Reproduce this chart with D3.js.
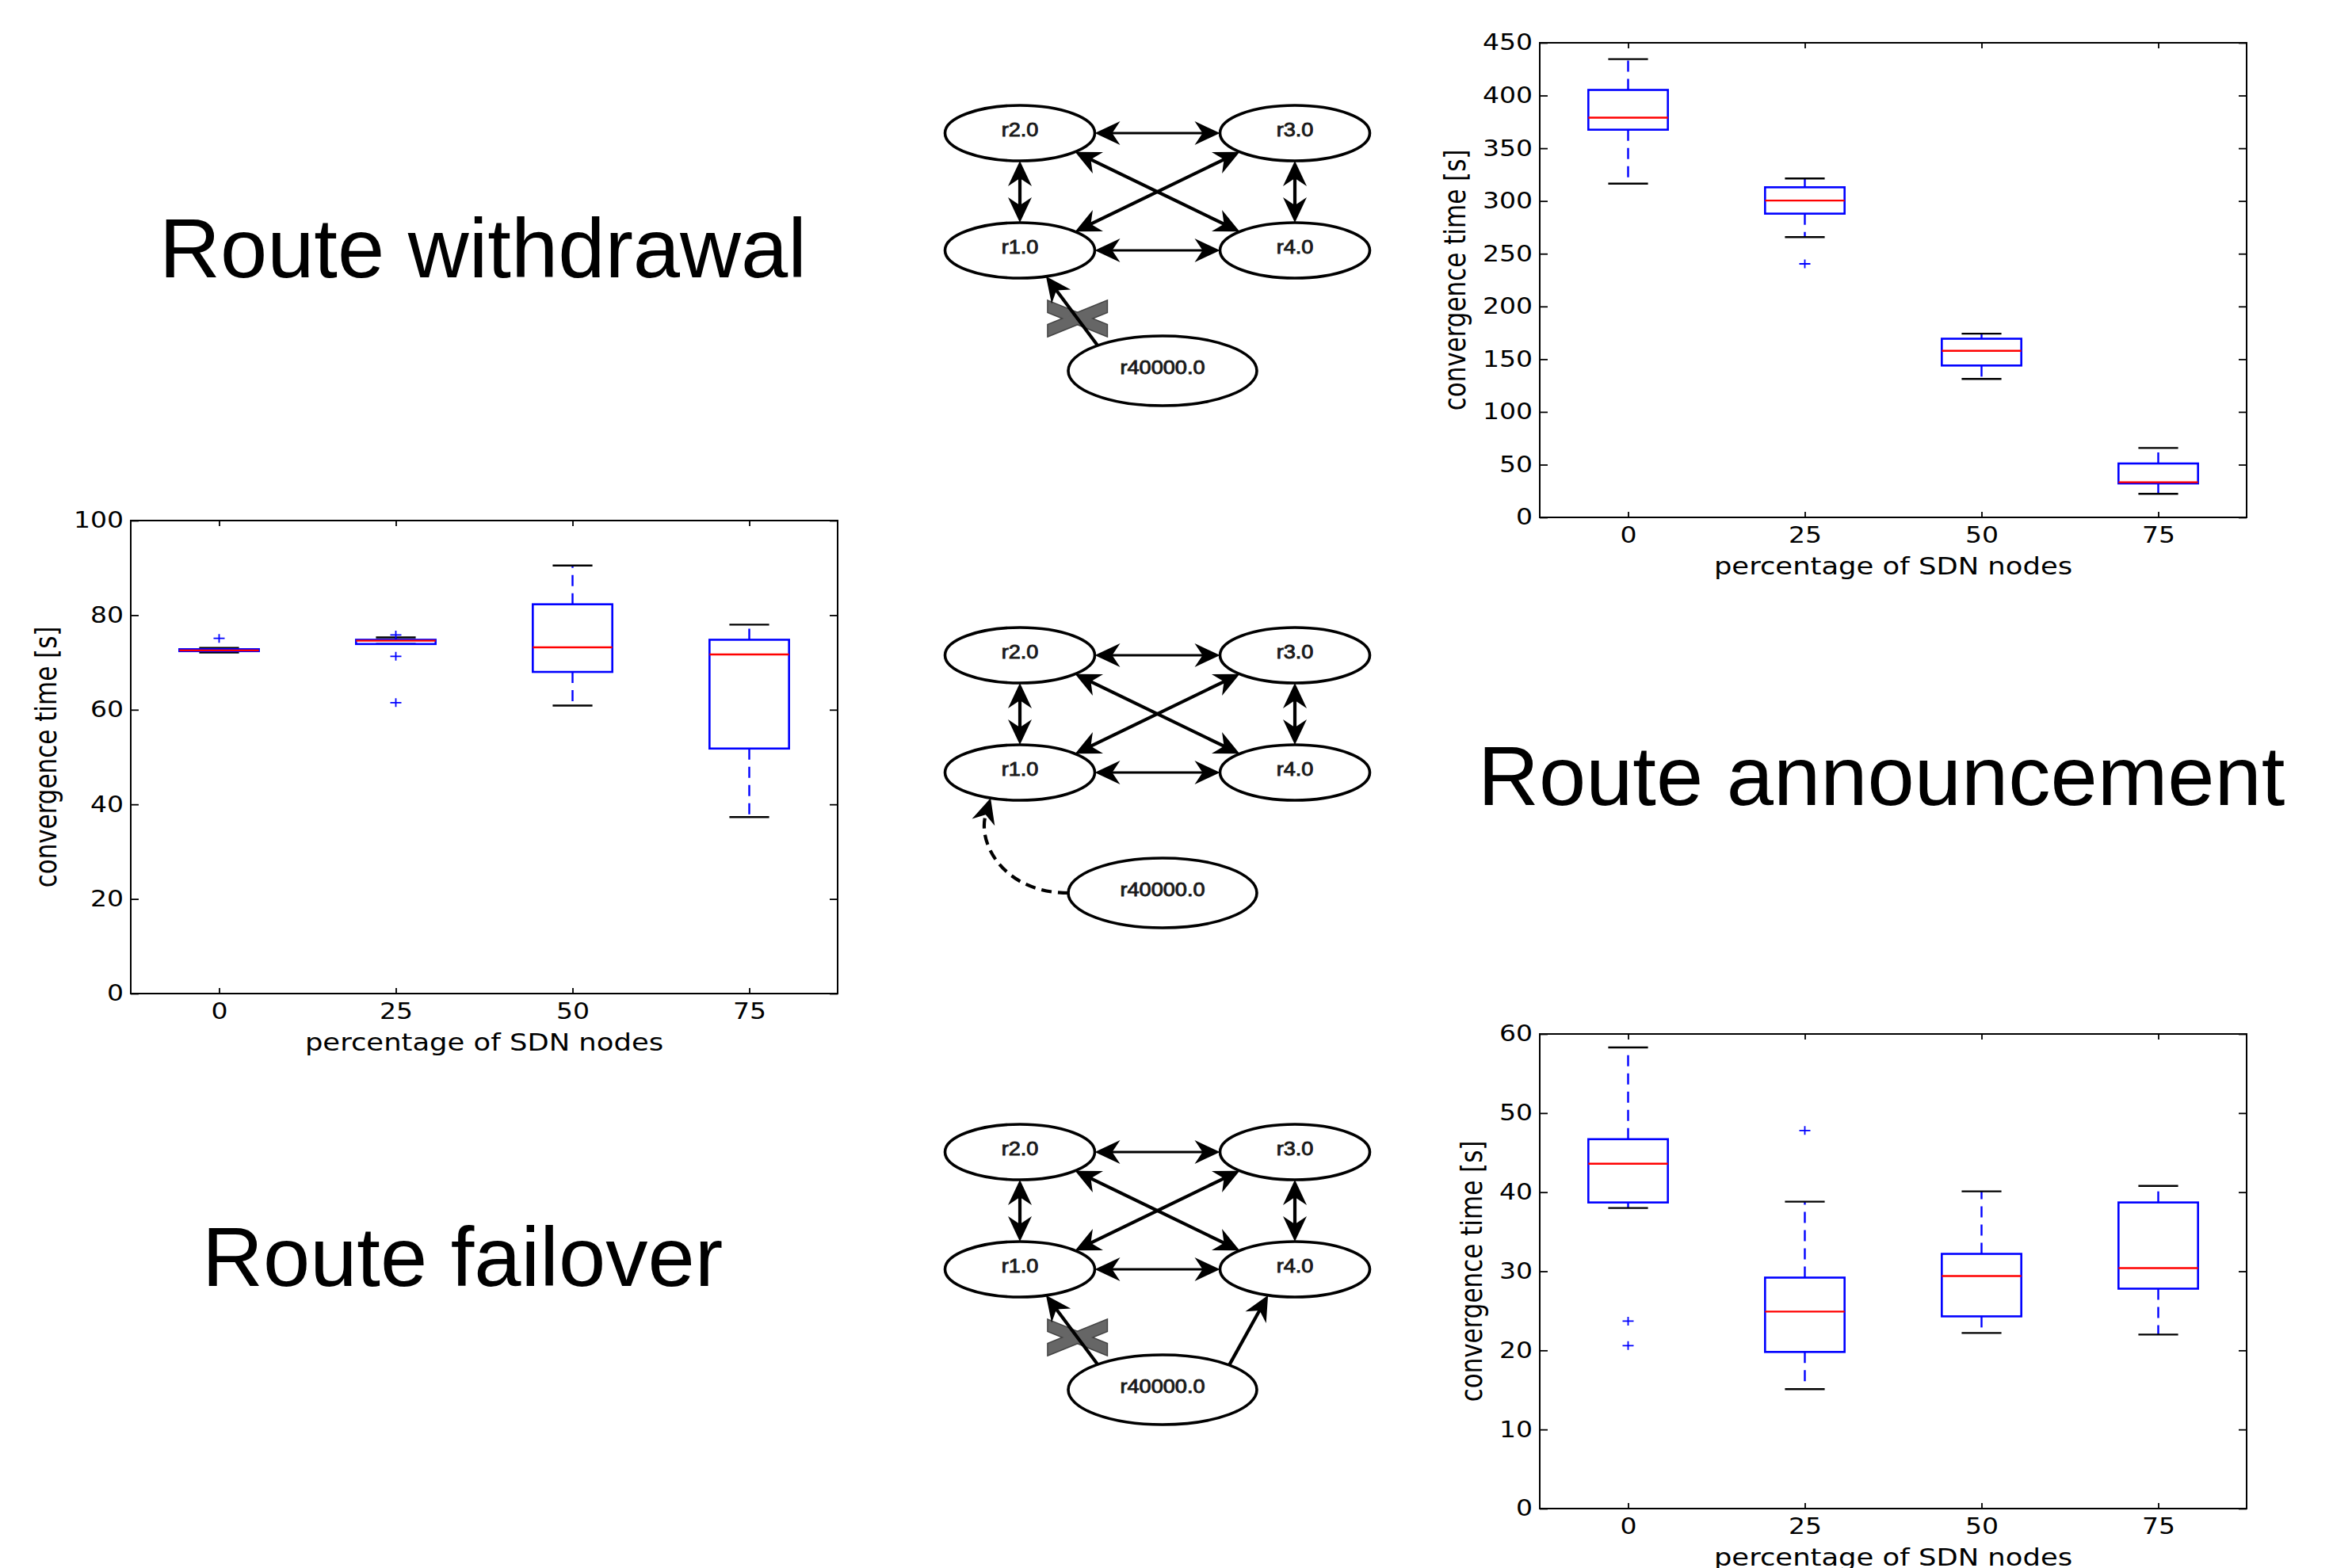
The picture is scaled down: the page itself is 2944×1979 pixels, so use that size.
<!DOCTYPE html>
<html>
<head>
<meta charset="utf-8">
<script src="https://cdn.jsdelivr.net/npm/d3@7"></script>
<style>body{margin:0;background:#fff}</style>
</head>
<body>
<svg id="fig" width="2944" height="1979"></svg>
<script>
// ---- data ----
var sdnPct = [0, 25, 50, 75];

// route withdrawal (top right)
var wdTicks = [0, 50, 100, 150, 200, 250, 300, 350, 400, 450];
var wdLow  = [316.5, 265.8, 131.3, 22.3];
var wdQ1   = [367.6, 288.0, 144.0, 32.2];
var wdMed  = [379.0, 300.4, 158.0, 33.3];
var wdQ3   = [405.3, 313.0, 169.4, 51.1];
var wdHigh = [434.5, 321.3, 174.2, 65.8];
var wdOut  = [[], [240.4], [], []];

// route announcement (middle left)
var anTicks = [0, 20, 40, 60, 80, 100];
var anLow  = [72.1, 73.9, 60.9, 37.3];
var anQ1   = [72.4, 73.9, 68.0, 51.8];
var anMed  = [72.55, 74.6, 73.2, 71.7];
var anQ3   = [72.8, 74.8, 82.3, 74.8];
var anHigh = [73.1, 75.3, 90.5, 78.0];
var anOut  = [[75.1], [75.8, 71.3, 61.5], [], []];

// route failover (bottom right)
var foTicks = [0, 10, 20, 30, 40, 50, 60];
var foLow  = [38.0, 15.1, 22.2, 22.0];
var foQ1   = [38.7, 19.8, 24.3, 27.8];
var foMed  = [43.6, 24.9, 29.4, 30.4];
var foQ3   = [46.7, 29.2, 32.2, 38.7];
var foHigh = [58.3, 38.8, 40.1, 40.8];
var foOut  = [[23.7, 20.6], [47.8], [], []];

var titles = ["Route withdrawal", "Route announcement", "Route failover"];
var nodeNames = ["r2.0", "r3.0", "r1.0", "r4.0", "r40000.0"];
var meshLinks = [["r2.0","r3.0"], ["r1.0","r4.0"], ["r2.0","r1.0"], ["r3.0","r4.0"], ["r2.0","r4.0"], ["r3.0","r1.0"]];

// ---- drawing ----
var svg = d3.select("#fig");
var SX = 1.18;               // the plots in the figure are stretched horizontally
var BLUE = "#0000ff", RED = "#ff0000";

function boxPlot(f, yMax, yTicks, low, q1, med, q3, high, out) {
  var x = d3.scaleLinear().domain([-12.5, 87.5]).range([f.left, f.right]);
  var y = d3.scaleLinear().domain([0, yMax]).range([f.bottom, f.top]);
  var g = svg.append("g");
  var bw = 5.625, cw = 2.8125;   // half box width, half cap width (in % units)

  var axL = g.append("g").attr("transform", "translate(" + f.left + ",0)")
    .call(d3.axisLeft(y).tickValues(yTicks).tickSizeInner(-10).tickSizeOuter(0).tickPadding(9));
  g.append("g").attr("transform", "translate(" + f.right + ",0)")
    .call(d3.axisRight(y).tickValues(yTicks).tickSizeInner(-10).tickSizeOuter(0).tickFormat(""));
  var axB = g.append("g").attr("transform", "translate(0," + f.bottom + ")")
    .call(d3.axisBottom(x).tickValues(sdnPct).tickSizeInner(-7).tickSizeOuter(0).tickPadding(12));
  g.append("g").attr("transform", "translate(0," + f.top + ")")
    .call(d3.axisTop(x).tickValues(sdnPct).tickSizeInner(-7).tickSizeOuter(0).tickFormat(""));
  g.selectAll(".domain").remove();
  g.selectAll(".tick line").attr("stroke-width", 1.8);
  [axL, axB].forEach(function(a) { a.attr("font-family", "DejaVu Sans").attr("font-size", 28); });
  axL.selectAll("text").attr("x", -9 / SX).attr("transform", "scale(" + SX + ",1)").attr("fill", "#000");
  axB.selectAll("text").attr("transform", "scale(" + SX + ",1)").attr("fill", "#000");

  g.append("rect").attr("x", f.left).attr("y", f.top)
    .attr("width", f.right - f.left).attr("height", f.bottom - f.top)
    .attr("fill", "none").attr("stroke", "#000").attr("stroke-width", 2);

  sdnPct.forEach(function(p, i) {
    var cx = x(p);
    // whiskers
    [[q3[i], high[i]], [q1[i], low[i]]].forEach(function(w) {
      g.append("line").attr("x1", cx).attr("x2", cx).attr("y1", y(w[0])).attr("y2", y(w[1]))
        .attr("stroke", BLUE).attr("stroke-width", 2.4).attr("stroke-dasharray", "14,9");
    });
    // caps
    [low[i], high[i]].forEach(function(v) {
      g.append("line").attr("x1", x(p - cw)).attr("x2", x(p + cw)).attr("y1", y(v)).attr("y2", y(v))
        .attr("stroke", "#000").attr("stroke-width", 2.4);
    });
    // box
    g.append("rect").attr("x", x(p - bw)).attr("y", y(q3[i]))
      .attr("width", x(p + bw) - x(p - bw)).attr("height", Math.max(y(q1[i]) - y(q3[i]), 0.5))
      .attr("fill", "none").attr("stroke", BLUE).attr("stroke-width", 2.6);
    // median
    g.append("line").attr("x1", x(p - bw)).attr("x2", x(p + bw)).attr("y1", y(med[i])).attr("y2", y(med[i]))
      .attr("stroke", RED).attr("stroke-width", 2.4);
    // fliers
    out[i].forEach(function(v) {
      g.append("path").attr("transform", "translate(" + cx + "," + y(v) + ")")
        .attr("d", "M-7,0H7M0,-5.5V5.5").attr("stroke", BLUE).attr("stroke-width", 1.8).attr("fill", "none");
    });
  });

  var bb = axL.node().getBBox();
  var lx = f.left + bb.x - 31;
  g.append("text").attr("transform", "translate(" + lx + "," + (f.top + f.bottom) / 2 + ") rotate(-90) scale(1," + SX + ")")
    .attr("text-anchor", "middle").attr("dy", "0.26em")
    .attr("font-family", "DejaVu Sans").attr("font-size", 31).text("convergence time [s]");
  g.append("text").attr("transform", "translate(" + (f.left + f.right) / 2 + "," + (f.bottom + 72) + ") scale(" + SX + ",1)")
    .attr("text-anchor", "middle")
    .attr("font-family", "DejaVu Sans").attr("font-size", 30).text("percentage of SDN nodes");
}

boxPlot({left: 1943, right: 2835, top: 54, bottom: 653}, 450, wdTicks, wdLow, wdQ1, wdMed, wdQ3, wdHigh, wdOut);
boxPlot({left: 165, right: 1057, top: 657, bottom: 1254}, 100, anTicks, anLow, anQ1, anMed, anQ3, anHigh, anOut);
boxPlot({left: 1943, right: 2835, top: 1305, bottom: 1904}, 60, foTicks, foLow, foQ1, foMed, foQ3, foHigh, foOut);

// ---- titles ----
var titlePos = [[201, 350], [1865, 1016], [255, 1623]];
titles.forEach(function(t, i) {
  svg.append("text").attr("x", titlePos[i][0]).attr("y", titlePos[i][1])
    .attr("font-family", "Liberation Sans").attr("font-size", 106.5).attr("fill", "#000").text(t);
});

// ---- network diagrams ----
var nodeGeom = {"r2.0": [1287, 168, 94.5, 35], "r3.0": [1634, 168, 94.5, 35],
  "r1.0": [1287, 316, 94.5, 35], "r4.0": [1634, 316, 94.5, 35], "r40000.0": [1467, 468, 119, 44]};
var linkAngles = {"r2.0-r3.0": [0, 180], "r1.0-r4.0": [0, 180], "r2.0-r1.0": [90, 270],
  "r3.0-r4.0": [90, 270], "r2.0-r4.0": [42.5, 222.5], "r3.0-r1.0": [137.5, 317.5]};
var netOffsets = [0, 659, 1286];
var AL = 32, AW = 15, AN = 10;

function onEllipse(name, deg, oy) {
  var n = nodeGeom[name], t = deg * Math.PI / 180;
  return [n[0] + n[2] * Math.cos(t), n[1] + oy + n[3] * Math.sin(t)];
}
function arrowHead(g, tip, d) {
  var nx = -d[1], ny = d[0];
  var bx = tip[0] - AL * d[0], by = tip[1] - AL * d[1];
  var pts = [tip, [bx + AW * nx, by + AW * ny], [tip[0] - (AL - AN) * d[0], tip[1] - (AL - AN) * d[1]], [bx - AW * nx, by - AW * ny]];
  g.append("path").attr("d", "M" + pts.join("L") + "Z").attr("fill", "#000");
}
function edge(g, a, b, both) {
  var dx = b[0] - a[0], dy = b[1] - a[1], len = Math.hypot(dx, dy), d = [dx / len, dy / len];
  var k = AL - AN - 1;
  var s = both ? [a[0] + k * d[0], a[1] + k * d[1]] : a;
  var e = [b[0] - k * d[0], b[1] - k * d[1]];
  g.append("line").attr("x1", s[0]).attr("y1", s[1]).attr("x2", e[0]).attr("y2", e[1])
    .attr("stroke", "#000").attr("stroke-width", Math.abs(d[1]) > 0.3 ? 4.2 : 2.8);
  arrowHead(g, b, d);
  if (both) arrowHead(g, a, [-d[0], -d[1]]);
}
function brokenMark(g, cx, cy) {
  var w = 37, h = 22, t = 14;
  var bars = [[[cx - w, cy - h], [cx + w, cy + h - t], [cx + w, cy + h], [cx - w, cy - h + t]],
              [[cx - w, cy + h], [cx + w, cy - h + t], [cx + w, cy - h], [cx - w, cy + h - t]]];
  bars.forEach(function(p) {
    g.append("path").attr("d", "M" + p.join("L") + "Z").attr("fill", "#666").attr("stroke", "#444").attr("stroke-width", 3);
  });
  bars.forEach(function(p) {
    g.append("path").attr("d", "M" + p.join("L") + "Z").attr("fill", "#666");
  });
}

netOffsets.forEach(function(oy, k) {
  var g = svg.append("g");
  meshLinks.forEach(function(l) {
    var ang = linkAngles[l[0] + "-" + l[1]];
    edge(g, onEllipse(l[0], ang[0], oy), onEllipse(l[1], ang[1], oy), true);
  });
  if (k === 1) {
    // new route announced: dashed curve into r1.0
    var tip = onEllipse("r1.0", 113, oy), st = onEllipse("r40000.0", 180, oy);
    var d = [0.287, -0.958], m = AL - AN - 1;
    var nt = [tip[0] - m * d[0], tip[1] - m * d[1]];
    var c2 = [nt[0] - 40 * d[0], nt[1] - 40 * d[1]];
    g.append("path").attr("d", "M" + st + "C" + [st[0] - 80, st[1]] + " " + c2 + " " + nt)
      .attr("fill", "none").attr("stroke", "#000").attr("stroke-width", 4.2).attr("stroke-dasharray", "13,8");
    arrowHead(g, tip, d);
  } else {
    var a = onEllipse("r40000.0", 226.5, oy), b = onEllipse("r1.0", 69.6, oy);
    brokenMark(g, a[0] + (b[0] - a[0]) * 0.39, a[1] + (b[1] - a[1]) * 0.39);
    edge(g, a, b, false);
    if (k === 2) edge(g, onEllipse("r40000.0", 315, oy), onEllipse("r4.0", 111, oy), false);
  }
  nodeNames.forEach(function(nm) {
    var n = nodeGeom[nm];
    g.append("ellipse").attr("cx", n[0]).attr("cy", n[1] + oy).attr("rx", n[2]).attr("ry", n[3])
      .attr("fill", "none").attr("stroke", "#000").attr("stroke-width", 3.6);
    g.append("text").attr("transform", "translate(" + n[0] + "," + (n[1] + oy + 4) + ") scale(1.13,1)")
      .attr("text-anchor", "middle").attr("font-family", "Liberation Sans").attr("font-size", 24)
      .attr("fill", "#1a1a1a").attr("stroke", "#1a1a1a").attr("stroke-width", 0.9).text(nm);
  });
});
</script>
</body>
</html>
